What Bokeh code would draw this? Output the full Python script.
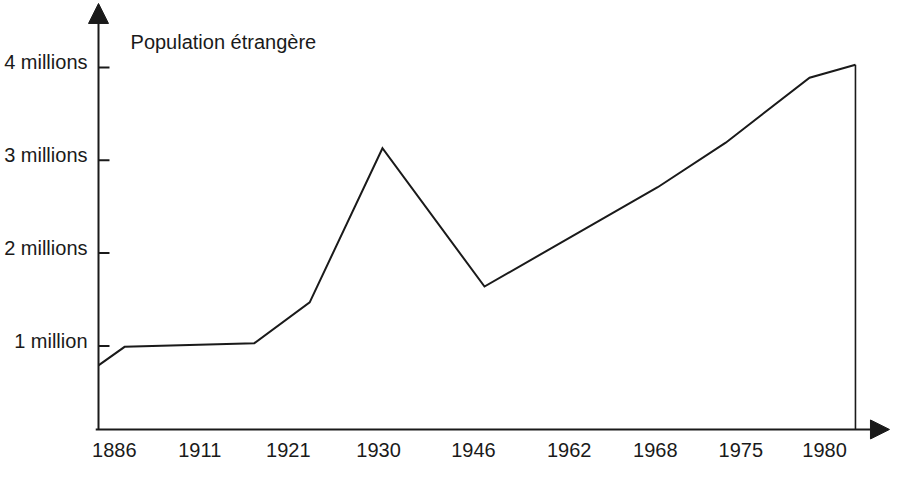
from bokeh.plotting import figure
from bokeh.models import Range1d, Arrow, NormalHead, Label, ColumnDataSource
from bokeh.core.properties import value
from bokeh.embed import file_html
from bokeh.resources import INLINE

# Horizontal axis is schematic: positions are given as % of the axis length
year_labels = ["1886", "1911", "1921", "1930", "1946", "1962", "1968", "1975", "1980"]
year_label_pos = [2.0, 12.8, 24.0, 35.4, 47.4, 59.5, 70.4, 81.2, 91.8]

# Foreign population (millions) at vertices of the curve
point_pos = [0.0, 3.3, 19.7, 26.7, 35.9, 48.8, 70.7, 79.3, 89.9, 95.7]
population_millions = [0.79, 0.99, 1.03, 1.47, 3.13, 1.64, 2.71, 3.19, 3.89, 4.03]

y_tick_values = [1, 2, 3, 4]
y_tick_labels = ["1 million", "2 millions", "3 millions", "4 millions"]
series_title = "Population étrangère"

INK = "#1a1a1a"
FONT = "Liberation Sans"
FS = "20px"

# layout constants (data units of the drawing)
x_min, x_max = -12.39, 100.13
y_min, y_max = -0.256, 4.722
axis_y = 0.10          # level of the horizontal axis
axis_x = 0.0           # position of the vertical axis
x_arrow_tip = 100.0
y_arrow_tip = 4.69
tick_len = 1.39        # 11 px
label_gap = 1.39       # 11 px
label_lift = 0.054     # small lift of the y labels above their tick
x_label_y = -0.12
title_x, title_y = 4.05, 4.275

p = figure(width=890, height=462, output_backend="svg", toolbar_location=None,
           x_range=Range1d(x_min, x_max), y_range=Range1d(y_min, y_max),
           x_axis_location=None, y_axis_location=None,
           min_border=0, min_border_left=0, min_border_right=0,
           min_border_top=0, min_border_bottom=0)
p.outline_line_color = None
p.xgrid.grid_line_color = None
p.ygrid.grid_line_color = None
p.background_fill_color = "white"
p.border_fill_color = "white"

# axes with arrow heads
p.add_layout(Arrow(end=NormalHead(size=20, fill_color=INK, line_color=INK, line_width=1),
                   x_start=axis_x, y_start=axis_y, x_end=axis_x, y_end=y_arrow_tip,
                   line_color=INK, line_width=2))
p.add_layout(Arrow(end=NormalHead(size=19, fill_color=INK, line_color=INK, line_width=1),
                   x_start=axis_x - 0.35, y_start=axis_y, x_end=x_arrow_tip, y_end=axis_y,
                   line_color=INK, line_width=2))

# y ticks (inside) and labels
n = len(y_tick_values)
tick_src = ColumnDataSource(dict(
    x0=[axis_x] * n, x1=[axis_x + tick_len] * n, y=y_tick_values,
    lx=[axis_x - label_gap] * n, ly=[v + label_lift for v in y_tick_values],
    text=y_tick_labels))
p.segment(x0="x0", y0="y", x1="x1", y1="y", source=tick_src, line_width=2, line_color=INK)
p.text(x="lx", y="ly", text="text", source=tick_src, text_font=value(FONT),
       text_font_size=FS, text_color=INK, text_align="right", text_baseline="alphabetic")

# x labels
xl_src = ColumnDataSource(dict(x=year_label_pos, y=[x_label_y] * len(year_label_pos),
                               text=year_labels))
p.text(x="x", y="y", text="text", source=xl_src, text_font=value(FONT),
       text_font_size=FS, text_color=INK, text_align="center", text_baseline="alphabetic")

# curve
src = ColumnDataSource(dict(x=point_pos, y=population_millions))
p.line("x", "y", source=src, line_width=2, line_color=INK, line_join="miter")
# closing vertical drop to the axis at the last point
p.segment(x0=[point_pos[-1]], y0=[population_millions[-1]],
          x1=[point_pos[-1]], y1=[axis_y], line_width=1.6, line_color=INK)

p.add_layout(Label(x=title_x, y=title_y, text=series_title, text_font=FONT,
                   text_font_size=FS, text_color=INK, text_baseline="alphabetic"))

open("out.html", "w").write(file_html(p, INLINE))
